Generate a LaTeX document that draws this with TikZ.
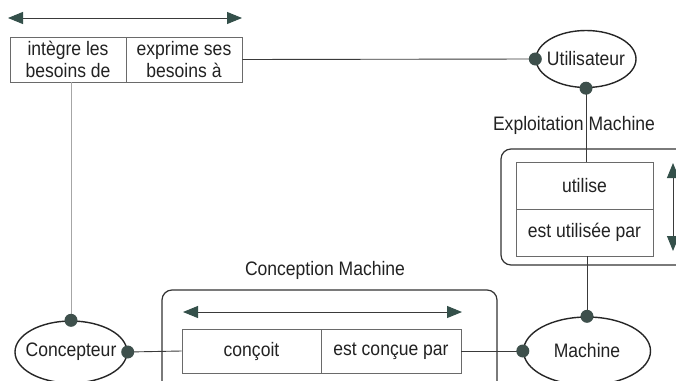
\documentclass[tikz,border=0pt]{standalone}
\usepackage{fontspec}
\setmainfont{Liberation Sans}[FakeStretch=0.9]
\usetikzlibrary{shapes.geometric,arrows.meta}
\definecolor{lin}{HTML}{3A3A3A}
\definecolor{boxc}{HTML}{6A6A6A}
\definecolor{dotc}{HTML}{3E504C}
\definecolor{tipc}{HTML}{34504A}
\definecolor{txt}{HTML}{222222}
\tikzset{
  cell/.style={draw=boxc, line width=0.9pt, minimum height=45pt, inner sep=0pt, align=center, font=\fontsize{19.5}{22}\selectfont, text=txt},
  actor/.style={ellipse, draw=black!85, line width=1.4pt, inner sep=0pt, label={[font=\fontsize{19.5}{22}\selectfont, text=txt, inner sep=0pt]center:#1}},
  grp/.style={draw=black!80, line width=1.2pt, rounded corners=10pt},
  conn/.style={draw=lin, line width=0.9pt},
  dblarrow/.style={draw=lin, line width=1pt, {Triangle[length=15pt,width=12pt,fill=tipc,color=tipc]}-{Triangle[length=15pt,width=12pt,fill=tipc,color=tipc]}},
  dotn/.style={circle, fill=dotc, inner sep=0pt, minimum size=13pt},
  lbl/.style={font=\fontsize{19.5}{22}\selectfont, text=txt}
}
\begin{document}
\begin{tikzpicture}[x=1pt,y=-1pt]
\useasboundingbox (0,0) rectangle (676,380);
\clip (0,0) rectangle (676,380);
\fill[white] (0,0) rectangle (676,380);
% top relation
\node[cell, minimum width=116pt] (topL) at (68,59.5) {intègre les\\besoins de};
\node[cell, minimum width=116pt] (topR) at (184,59.5) {exprime ses\\besoins à};
\coordinate (ta1) at (8,18);
\coordinate (ta2) at (242,18);
\draw[dblarrow] (ta1) -- (ta2);
% actors
\node[actor=Utilisateur, minimum width=100pt, minimum height=57pt] (util) at (586,59) {};
\node[actor=Machine, minimum width=127pt, minimum height=68pt] (mach) at (587,351) {};
\node[actor=Concepteur, minimum width=112pt, minimum height=62pt] (conc) at (71,352) {};
% Exploitation Machine
\node[lbl] (exlbl) at (574,125) {Exploitation Machine};
\draw[grp] (501,149) rectangle (720,265);
\node[cell, minimum width=137pt, minimum height=47pt] (uti) at (584.5,185.5) {utilise};
\node[cell, minimum width=137pt, minimum height=47pt] (estu) at (584.5,232.5) {est utilisée par};
\coordinate (va1) at (673,163);
\coordinate (va2) at (673,251);
\draw[dblarrow] (va1) -- (va2);
% Conception Machine
\node[lbl] (colbl) at (325,270) {Conception Machine};
\draw[grp] (162,290) rectangle (497,410);
\coordinate (ca1) at (183,312);
\coordinate (ca2) at (462,312);
\draw[dblarrow] (ca1) -- (ca2);
\node[cell, minimum width=139pt, minimum height=44pt] (conV) at (251.5,351) {conçoit};
\node[cell, minimum width=140pt, minimum height=44pt] (conP) at (391,351) {est conçue par};
% connectors
\draw[conn] (topR.east) -- (util.west);
\draw[conn] (util.south) -- (util.south |- uti.north);
\draw[conn] (estu.south -| mach.north) -- (mach.north);
\draw[conn] (conc.east) -- (conV.west);
\draw[conn] (conP.east) -- (mach.west);
\draw[draw=gray!70, line width=0.8pt] (conc.north |- topL.south) -- (conc.north);
% dots
\node[dotn] (d1) at (util.west) {};
\node[dotn] (d2) at (util.south) {};
\node[dotn] (d3) at (mach.north) {};
\node[dotn] (d4) at (mach.west) {};
\node[dotn] (d5) at (conc.north) {};
\node[dotn] (d6) at (conc.east) {};
\end{tikzpicture}
\end{document}
